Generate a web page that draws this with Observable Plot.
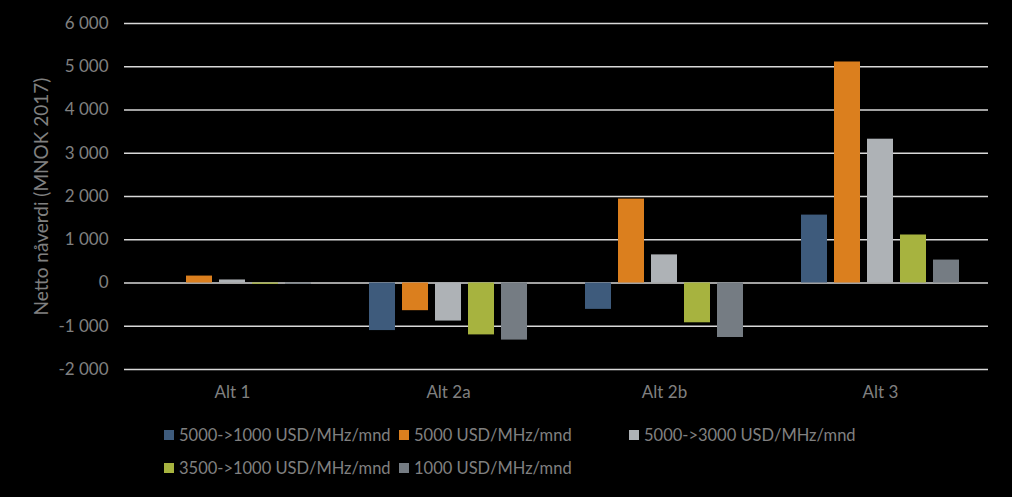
<!DOCTYPE html>
<html><head><meta charset="utf-8">
<script src="https://cdn.jsdelivr.net/npm/d3@7"></script>
<script src="https://cdn.jsdelivr.net/npm/@observablehq/plot@0.6"></script>
<style>
html,body{margin:0;padding:0;background:#000;}
body{width:1012px;height:497px;overflow:hidden;position:relative;font-family:Lato,sans-serif;}
#chart{position:absolute;left:0;top:0;}
#chart svg text{font-size:17px;}
#chart g[aria-label="y-axis label"] text{font-size:19px;}
#legend{position:absolute;left:164px;top:425px;display:grid;grid-template-columns:235px 230px auto;row-gap:13px;color:#808080;font-size:16.5px;line-height:20px;}
.item{display:flex;align-items:center;white-space:nowrap;}
.sw{width:10px;height:10px;margin-right:5px;flex:none;}
</style></head>
<body>
<div id="chart"></div>
<div id="legend"></div>
<script>
const groups = ["Alt 1", "Alt 2a", "Alt 2b", "Alt 3"];
const series = ["5000->1000 USD/MHz/mnd", "5000 USD/MHz/mnd", "5000->3000 USD/MHz/mnd", "3500->1000 USD/MHz/mnd", "1000 USD/MHz/mnd"];
const s1 = [0, -1100, -610, 1570];
const s2 = [160, -640, 1940, 5110];
const s3 = [70, -880, 650, 3325];
const s4 = [-30, -1200, -920, 1110];
const s5 = [-30, -1320, -1260, 530];
const colors = ["#3e5b7c", "#db7f1e", "#aeb2b6", "#a7b33f", "#757c83"];
const yTicks = [-2000, -1000, 0, 1000, 2000, 3000, 4000, 5000, 6000];

const allSeries = [s1, s2, s3, s4, s5];
const data = [];
groups.forEach((g, gi) => allSeries.forEach((s, si) => data.push({group: g, series: series[si], value: s[gi]})));

const loc = d3.formatLocale({decimal: ",", thousands: " ", grouping: [3], currency: ["", ""], minus: "-"});
const fmt = loc.format(",");

const chart = Plot.plot({
  width: 1012, height: 410,
  marginLeft: 123, marginRight: 23, marginTop: 23, marginBottom: 41,
  style: {background: "#000", color: "#808080", fontFamily: "Lato, sans-serif", fontSize: "17px"},
  fx: {domain: groups, padding: 0, label: null, axis: "bottom", tickSize: 0, tickPadding: 16},
  x: {domain: series, axis: null, paddingInner: 0.21, paddingOuter: 0.865},
  y: {domain: [-2000, 6000], ticks: yTicks, tickFormat: fmt, tickSize: 0, tickPadding: 16,
      label: "Netto nåverdi (MNOK 2017)", labelAnchor: "center", labelArrow: "none", labelOffset: 90},
  color: {domain: series, range: colors},
  marks: [
    Plot.ruleY(yTicks, {stroke: "#d9d9d9", strokeWidth: 1.5}),
    Plot.barY(data, {fx: "group", x: "series", y: "value", fill: "series"})
  ]
});
document.getElementById("chart").appendChild(chart);

const legend = document.getElementById("legend");
series.forEach((name, i) => {
  const it = document.createElement("div");
  it.className = "item";
  const sw = document.createElement("span");
  sw.className = "sw";
  sw.style.background = colors[i];
  const t = document.createElement("span");
  t.textContent = name;
  it.appendChild(sw); it.appendChild(t);
  legend.appendChild(it);
});
legend.children[3].style.gridRow = "2"; legend.children[3].style.gridColumn = "1";
legend.children[4].style.gridRow = "2"; legend.children[4].style.gridColumn = "2";
</script>
</body></html>
